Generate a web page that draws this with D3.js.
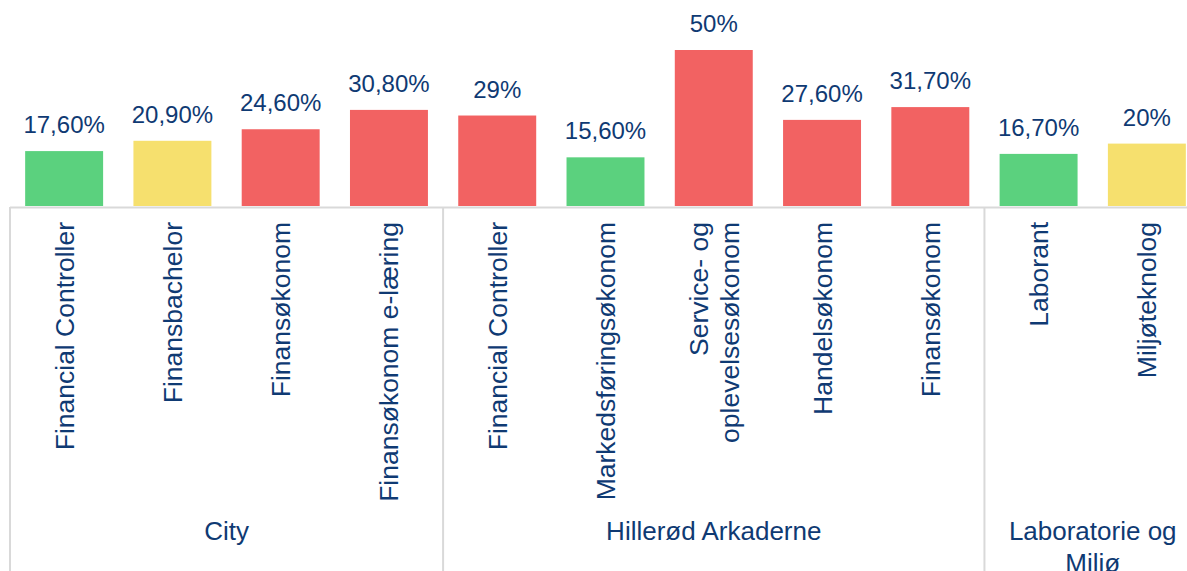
<!DOCTYPE html>
<html>
<head>
<meta charset="utf-8">
<script src="https://cdn.jsdelivr.net/npm/d3@7"></script>
<style>
  body { margin: 0; background: #fff; overflow: hidden; }
  text { font-family: "Liberation Sans", Arial, sans-serif; fill: #0f3a73; }
</style>
</head>
<body>
<div id="chart"></div>
<script>
// data
const uddannelser = ["Financial Controller", "Finansbachelor", "Finansøkonom", "Finansøkonom e-læring",
    "Financial Controller", "Markedsføringsøkonom", "Service- og\noplevelsesøkonom", "Handelsøkonom", "Finansøkonom",
    "Laborant", "Miljøteknolog"];
const andel = [17.6, 20.9, 24.6, 30.8, 29, 15.6, 50, 27.6, 31.7, 16.7, 20];
const niveau = ["lav", "middel", "høj", "høj", "høj", "lav", "høj", "høj", "høj", "lav", "middel"];
const grupper = ["City", "Hillerød Arkaderne", "Laboratorie og\nMiljø"];
const gruppeAntal = [4, 5, 2];

const width = 1187, height = 571;
const baseY = 206;

const svg = d3.select("#chart")
    .append("svg")
    .attr("width", width)
    .attr("height", height);

const keys = uddannelser.map((d, i) => i);

// X scale (runs past right edge, last bar is cut like in the original)
const x = d3.scaleBand()
    .domain(keys)
    .range([10, 1201])
    .paddingInner(0.28)
    .paddingOuter(0.14);

const y = d3.scaleLinear()
    .domain([0, 50])
    .range([baseY, 50]);

const color = d3.scaleOrdinal()
    .domain(["lav", "middel", "høj"])
    .range(["#5bd17e", "#f6e06e", "#f26262"]);

const fmt = v => (Number.isInteger(v) ? v : d3.format(".2f")(v).replace(".", ",")) + "%";

// bars
svg.selectAll("rect.bar")
    .data(andel)
    .enter()
    .append("rect")
    .attr("class", "bar")
    .attr("x", (d, i) => x(i))
    .attr("y", d => y(d))
    .attr("width", x.bandwidth())
    .attr("height", d => y(0) - y(d))
    .attr("fill", (d, i) => color(niveau[i]));

// value labels
svg.selectAll("text.val")
    .data(andel)
    .enter()
    .append("text")
    .attr("class", "val")
    .attr("x", (d, i) => x(i) + x.bandwidth() / 2)
    .attr("y", d => y(d) - 18)
    .attr("text-anchor", "middle")
    .style("font-size", "24px")
    .text(d => fmt(d));

// axis lines
const grid = "#d9d9d9";
svg.append("line")
    .attr("x1", 10).attr("x2", width)
    .attr("y1", baseY + 1.5).attr("y2", baseY + 1.5)
    .style("stroke", grid).style("stroke-width", 2);

// group dividers
let start = 0;
const bounds = [];
gruppeAntal.forEach(n => {
    const x0 = x(start) - x.step() * x.paddingInner() / 2 - (start === 0 ? x.step() * (x.paddingOuter() - x.paddingInner() / 2) : 0);
    const x1 = x(start + n - 1) + x.bandwidth() + x.step() * x.paddingInner() / 2;
    bounds.push([x0, x1]);
    start += n;
});

bounds.forEach(b => {
    svg.append("line")
        .attr("x1", b[0]).attr("x2", b[0])
        .attr("y1", baseY + 1).attr("y2", height)
        .style("stroke", grid).style("stroke-width", 2);
});

// category labels, rotated
const catFont = 26.5;
uddannelser.forEach((label, i) => {
    const lines = label.split("\n");
    const cx = x(i) + x.bandwidth() / 2;
    const t = svg.append("text")
        .attr("transform", "translate(" + cx + "," + 222 + ") rotate(-90)")
        .attr("text-anchor", "end")
        .style("font-size", catFont + "px");
    lines.forEach((l, j) => {
        t.append("tspan")
            .attr("x", 0)
            .attr("y", (j - (lines.length - 1) / 2) * 31 + 9.5)
            .text(l);
    });
});

// group labels
grupper.forEach((g, i) => {
    const lines = g.split("\n");
    const cx = (bounds[i][0] + bounds[i][1]) / 2;
    const t = svg.append("text")
        .attr("text-anchor", "middle")
        .style("font-size", "26px");
    lines.forEach((l, j) => {
        t.append("tspan")
            .attr("x", cx)
            .attr("y", 540 + j * 32)
            .text(l);
    });
});
</script>
</body>
</html>
